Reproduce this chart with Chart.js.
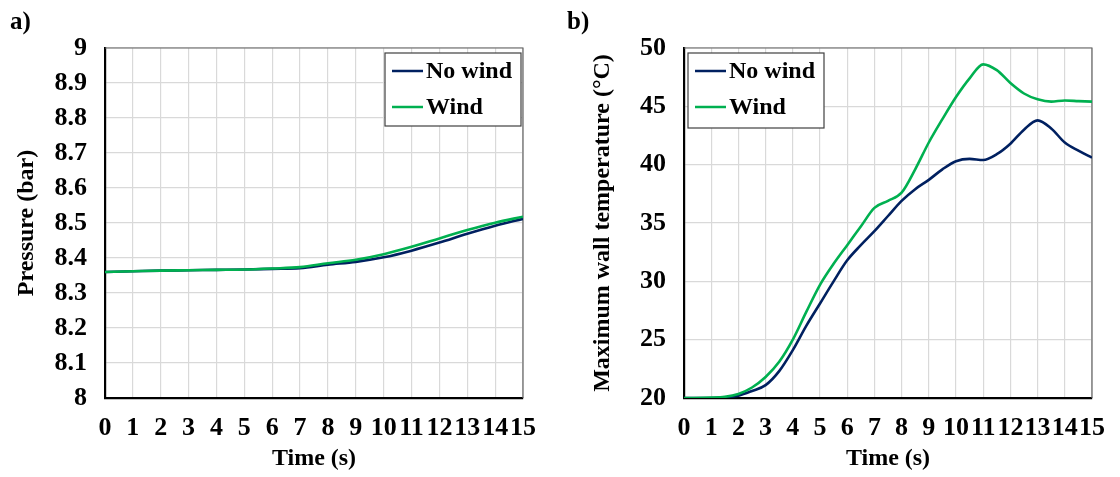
<!DOCTYPE html>
<html>
<head>
<meta charset="utf-8">
<script src="https://cdn.jsdelivr.net/npm/chart.js@4/dist/chart.umd.min.js"></script>
<style>
  body { margin: 0; background: #fff; width: 1120px; height: 477px; overflow: hidden; position: relative; }
  .panel { position: absolute; top: 0; width: 560px; height: 477px; }
  .tag { position: absolute; top: 7px; font: bold 25px "Liberation Serif", serif; color: #000; }
</style>
</head>
<body>
<div class="panel" style="left:0"><canvas id="pressure" width="560" height="477"></canvas></div>
<div class="panel" style="left:560px"><canvas id="temp" width="560" height="477"></canvas></div>
<div class="tag" style="left:10px">a)</div>
<div class="tag" style="left:567px">b)</div>
<script>
const seriesNames = ["No wind", "Wind"];
const seriesColors = ["#002060", "#00B050"];

const pressureTime = [0, 1, 2, 3, 4, 5, 6, 7, 8, 9, 10, 11, 12, 13, 14, 15];
const pressureNoWind = [8.36, 8.362, 8.364, 8.365, 8.366, 8.367, 8.369, 8.371, 8.381, 8.389, 8.402, 8.421, 8.444, 8.469, 8.492, 8.512];
const pressureWind = [8.36, 8.362, 8.364, 8.365, 8.366, 8.367, 8.37, 8.374, 8.385, 8.395, 8.411, 8.432, 8.456, 8.48, 8.501, 8.518];

const tempTime = [0, 1, 1.5, 2, 2.5, 3, 3.5, 4, 4.5, 5, 5.5, 6, 6.5, 7, 7.5, 8, 8.5, 9, 9.5, 10, 10.5, 11, 11.5, 12, 12.5, 13, 13.5, 14, 14.5, 15];
const tempNoWind = [20, 20, 20.05, 20.2, 20.6, 21.1, 22.3, 24.1, 26.2, 28.1, 30, 31.8, 33.1, 34.3, 35.6, 36.9, 37.9, 38.7, 39.6, 40.3, 40.5, 40.4, 40.9, 41.8, 43.0, 43.8, 43.1, 41.9, 41.2, 40.6];
const tempWind = [20, 20.03, 20.1, 20.35, 20.9, 21.8, 23.1, 25.0, 27.4, 29.7, 31.5, 33.1, 34.7, 36.3, 36.9, 37.6, 39.6, 41.9, 43.9, 45.8, 47.4, 48.6, 48.1, 47.0, 46.1, 45.6, 45.4, 45.5, 45.45, 45.4];

const timeTicks = [0, 1, 2, 3, 4, 5, 6, 7, 8, 9, 10, 11, 12, 13, 14, 15];
const pressureTicks = [8, 8.1, 8.2, 8.3, 8.4, 8.5, 8.6, 8.7, 8.8, 8.9, 9];
const pressureTickLabels = ["8", "8.1", "8.2", "8.3", "8.4", "8.5", "8.6", "8.7", "8.8", "8.9", "9"];
const tempTicks = [20, 25, 30, 35, 40, 45, 50];
const tempTickLabels = ["20", "25", "30", "35", "40", "45", "50"];

const FONT = "'Liberation Serif', 'Times New Roman', serif";
const titleFont = { family: FONT, size: 24, weight: "bold" };
const tickFont = { family: FONT, size: 26, weight: "bold" };

const frameLines = {
  id: "frameLines",
  beforeDatasetsDraw(chart) {
    const { ctx, chartArea: a } = chart;
    ctx.save();
    ctx.strokeStyle = "#666666";
    ctx.lineWidth = 1.2;
    ctx.beginPath();
    ctx.moveTo(a.left, a.top);
    ctx.lineTo(a.right, a.top);
    ctx.lineTo(a.right, a.bottom);
    ctx.stroke();
    ctx.restore();
  },
};

const boxLegend = {
  id: "boxLegend",
  afterDraw(chart, args, opts) {
    const { ctx } = chart;
    ctx.save();
    ctx.fillStyle = "#fff";
    ctx.fillRect(opts.x, opts.y, opts.w, opts.h);
    ctx.strokeStyle = "#404040";
    ctx.lineWidth = 1.2;
    ctx.strokeRect(opts.x, opts.y, opts.w, opts.h);
    ctx.font = `bold 24px ${FONT}`;
    ctx.textBaseline = "middle";
    ctx.fillStyle = "#000";
    chart.data.datasets.forEach((ds, i) => {
      const cy = opts.y + 18 + i * 36;
      ctx.strokeStyle = ds.borderColor;
      ctx.lineWidth = 2.5;
      ctx.beginPath();
      ctx.moveTo(opts.x + 7, cy);
      ctx.lineTo(opts.x + 38, cy);
      ctx.stroke();
      ctx.fillText(ds.label, opts.x + 41, cy + 1);
    });
    ctx.restore();
  },
};

function toPoints(xs, ys) {
  return xs.map((x, i) => ({ x, y: ys[i] }));
}

function makeChart(id, xs, series, yTicks, yLabels, yTitle, plotBox, legendBox) {
  const datasets = series.map((ys, i) => ({
    label: seriesNames[i],
    data: toPoints(xs, ys),
    borderColor: seriesColors[i],
    borderWidth: 2.6,
    pointRadius: 0,
    cubicInterpolationMode: "monotone",
    fill: false,
    order: i === 0 ? 1 : 0,
  }));

  new Chart(document.getElementById(id), {
    type: "line",
    data: { datasets },
    plugins: [frameLines, boxLegend],
    options: {
      responsive: false,
      animation: false,
      layout: { padding: { top: plotBox.top, right: plotBox.right, left: 0, bottom: 0 } },
      plugins: {
        legend: { display: false },
        tooltip: { enabled: false },
        boxLegend: legendBox,
      },
      scales: {
        x: {
          type: "linear",
          min: 0,
          max: 15,
          afterBuildTicks: (s) => { s.ticks = timeTicks.map((v) => ({ value: v })); },
          afterFit: (s) => { s.height = 477 - plotBox.bottom; },
          ticks: { font: tickFont, color: "#000", padding: 15, maxRotation: 0, autoSkip: false },
          grid: { color: "#d9d9d9", lineWidth: 1.2, drawTicks: false },
          border: { color: "#000", width: 2.2 },
          title: { display: true, text: "Time (s)", font: titleFont, color: "#000", padding: { top: 0 } },
        },
        y: {
          min: yTicks[0],
          max: yTicks[yTicks.length - 1],
          afterBuildTicks: (s) => { s.ticks = yTicks.map((v) => ({ value: v })); },
          afterFit: (s) => { s.width = plotBox.left; },
          ticks: { font: tickFont, color: "#000", padding: 18, callback: (v, i) => yLabels[i] },
          grid: { color: "#d9d9d9", lineWidth: 1.2, drawTicks: false },
          border: { color: "#000", width: 2.2 },
          title: { display: true, text: yTitle, font: titleFont, color: "#000", padding: { top: plotBox.titlePad, bottom: 0 } },
        },
      },
    },
  });
}

makeChart("pressure", pressureTime, [pressureNoWind, pressureWind], pressureTicks, pressureTickLabels, "Pressure (bar)",
  { left: 105, right: 37, top: 48, bottom: 398, titlePad: 12 },
  { x: 385, y: 53, w: 136, h: 73 });

makeChart("temp", tempTime, [tempNoWind, tempWind], tempTicks, tempTickLabels, "Maximum wall temperature (°C)",
  { left: 124, right: 18, top: 48, bottom: 398, titlePad: 28 },
  { x: 128, y: 53, w: 136, h: 75 });
</script>
</body>
</html>
